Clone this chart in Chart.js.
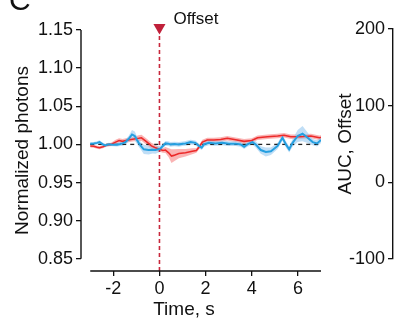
<!DOCTYPE html>
<html>
<head>
<meta charset="utf-8">
<script src="https://cdn.jsdelivr.net/npm/chart.js@4"></script>
<style>
  body { margin: 0; background: #fff; }
  #wrap { position: relative; width: 395px; height: 324px; }
  canvas { position: absolute; top: 0; }
</style>
</head>
<body>
<div id="wrap">
  <canvas id="traceChart" width="395" height="324" style="left:0"></canvas>
  <canvas id="aucChart" width="75" height="324" style="left:320px"></canvas>
</div>
<script>
const FONT = "'Liberation Sans', Arial, sans-serif";

// time axis, seconds
const xTicks = [-2, 0, 2, 4, 6];
const xStart = -3, xEnd = 7;
const yTicks = [0.85, 0.90, 0.95, 1.00, 1.05, 1.10, 1.15];
const aucTicks = [-100, 0, 100, 200];

// blue trace: time, mean, sem
const blueT = [-3.0, -2.85, -2.7, -2.6, -2.45, -2.35, -2.2, -2.0, -1.84, -1.7, -1.6, -1.48, -1.33, -1.19, -1.07, -0.98, -0.9, -0.78, -0.68, -0.47, -0.3, -0.17, 0.04, 0.15, 0.26, 0.38, 0.48, 0.65, 0.84, 1.0, 1.13, 1.35, 1.56, 1.71, 1.83, 1.93, 2.14, 2.43, 2.72, 3.01, 3.3, 3.52, 3.67, 3.81, 4.03, 4.17, 4.39, 4.61, 4.83, 5.12, 5.33, 5.48, 5.62, 5.77, 5.99, 6.2, 6.42, 6.64, 6.83, 7.0];
const blueV = [1.001, 1.0013, 1.002, 1.003, 1.000, 0.9987, 1.000, 0.9995, 0.9996, 1.0005, 1.0013, 1.003, 1.0074, 1.013, 1.011, 1.006, 1.002, 0.997, 0.9935, 0.9926, 0.993, 0.9926, 0.9944, 0.998, 1.0013, 1.001, 1.000, 1.0005, 1.000, 1.0008, 1.0013, 1.003, 1.002, 0.998, 0.9957, 1.000, 1.002, 1.0013, 1.002, 1.001, 1.001, 1.000, 0.997, 1.000, 1.003, 1.000, 0.9926, 0.990, 0.991, 0.998, 1.0087, 1.000, 0.9935, 1.002, 1.011, 1.014, 1.0087, 1.003, 1.0013, 1.0057];
const blueE = [0.002, 0.002, 0.002, 0.0025, 0.002, 0.002, 0.002, 0.002, 0.0025, 0.0025, 0.003, 0.003, 0.004, 0.006, 0.006, 0.005, 0.005, 0.005, 0.006, 0.006, 0.005, 0.005, 0.004, 0.003, 0.003, 0.003, 0.003, 0.003, 0.003, 0.003, 0.003, 0.003, 0.003, 0.003, 0.003, 0.003, 0.003, 0.003, 0.003, 0.003, 0.003, 0.003, 0.003, 0.003, 0.003, 0.004, 0.005, 0.006, 0.005, 0.004, 0.004, 0.004, 0.004, 0.005, 0.008, 0.010, 0.007, 0.004, 0.004, 0.004];

// red trace: time, mean, sem
const redT = [-3.0, -2.85, -2.7, -2.6, -2.45, -2.3, -2.1, -1.9, -1.75, -1.6, -1.45, -1.3, -1.1, -0.9, -0.78, -0.62, -0.5, -0.35, -0.2, 0.0, 0.15, 0.26, 0.4, 0.52, 0.62, 0.84, 1.13, 1.42, 1.6, 1.75, 1.86, 2.07, 2.36, 2.65, 2.94, 3.3, 3.67, 4.0, 4.25, 4.68, 5.12, 5.4, 5.69, 6.13, 6.56, 6.93, 7.0];
const redV = [0.998, 0.9975, 0.9962, 0.9956, 0.997, 0.999, 1.000, 1.003, 1.005, 1.004, 1.005, 1.006, 1.007, 1.008, 1.0087, 1.005, 1.002, 0.998, 0.996, 0.9935, 0.992, 0.9926, 0.989, 0.9847, 0.9856, 0.988, 0.989, 0.991, 0.992, 0.998, 1.003, 1.0057, 1.0057, 1.0065, 1.008, 1.006, 1.004, 1.005, 1.0087, 1.010, 1.011, 1.012, 1.010, 1.010, 1.011, 1.0087, 1.009];
const redE = [0.002, 0.002, 0.002, 0.002, 0.002, 0.002, 0.002, 0.003, 0.003, 0.003, 0.003, 0.003, 0.003, 0.004, 0.004, 0.004, 0.004, 0.004, 0.004, 0.003, 0.003, 0.004, 0.006, 0.009, 0.008, 0.006, 0.005, 0.004, 0.003, 0.003, 0.003, 0.003, 0.003, 0.003, 0.003, 0.003, 0.003, 0.003, 0.003, 0.003, 0.003, 0.003, 0.003, 0.003, 0.003, 0.003, 0.003];

const pts = (t, v) => t.map((x, i) => ({x: x, y: v[i]}));
const lo = (t, v, e) => t.map((x, i) => ({x: x, y: v[i] - e[i]}));
const hi = (t, v, e) => t.map((x, i) => ({x: x, y: v[i] + e[i]}));

const decor = {
  id: 'decor',
  afterDraw(c) {
    const {ctx, scales: {x, y}, chartArea} = c;
    ctx.save();
    ctx.strokeStyle = '#111';
    ctx.lineWidth = 1.4;
    ctx.beginPath();
    ctx.moveTo(chartArea.left, y.getPixelForValue(yTicks[0]));
    ctx.lineTo(chartArea.left, y.getPixelForValue(yTicks[yTicks.length - 1]));
    ctx.moveTo(x.getPixelForValue(xStart), chartArea.bottom);
    ctx.lineTo(x.getPixelForValue(xEnd), chartArea.bottom);
    ctx.stroke();
    ctx.fillStyle = '#111';
    ctx.font = '17px ' + FONT;
    ctx.fillText('Offset', x.getPixelForValue(0) + 14, 24);
    ctx.font = '19px ' + FONT;
    ctx.textAlign = 'center';
    ctx.fillText('Time, s', 184, 315);
    ctx.textAlign = 'left';
    ctx.font = '30px ' + FONT;
    ctx.fillText('C', 9, 10);
    ctx.restore();
  }
};

const line = (data, color, width, order) => ({
  data: data, borderColor: color, borderWidth: width, pointRadius: 0,
  fill: false, tension: 0, order: order
});

new Chart(document.getElementById('traceChart'), {
  type: 'line',
  data: {
    datasets: [
      Object.assign(line(lo(redT, redV, redE), 'transparent', 0, 5), {}),
      Object.assign(line(hi(redT, redV, redE), 'transparent', 0, 5), {fill: '-1', backgroundColor: 'rgba(246, 130, 130, 0.6)'}),
      Object.assign(line(lo(blueT, blueV, blueE), 'transparent', 0, 4), {}),
      Object.assign(line(hi(blueT, blueV, blueE), 'transparent', 0, 4), {fill: '-1', backgroundColor: 'rgba(150, 200, 240, 0.6)'}),
      Object.assign(line([{x: xStart, y: 1}, {x: xEnd, y: 1}], '#222', 1.3, 3), {borderDash: [4, 4]}),
      Object.assign(line([{x: 0, y: 0.834}, {x: 0, y: 1.147}], 'rgba(200, 40, 60, 1)', 1.6, 3), {borderDash: [4, 3]}),
      line(pts(redT, redV), '#ec2a2a', 1.6, 1),
      line(pts(blueT, blueV), '#259fe0', 2, 0),
      {
        type: 'scatter', data: [{x: 0, y: 1.1533}], pointStyle: 'triangle', rotation: 180,
        pointRadius: 7, backgroundColor: '#c0203a', borderColor: '#c0203a', borderWidth: 0,
        clip: false, order: 0
      }
    ]
  },
  options: {
    responsive: false,
    animation: false,
    layout: { padding: { left: 0, top: 30, right: 74, bottom: 0 } },
    plugins: { legend: { display: false }, tooltip: { enabled: false } },
    scales: {
      x: {
        type: 'linear', min: -3.4, max: 7.0,
        afterBuildTicks: s => { s.ticks = xTicks.map(v => ({value: v})); },
        afterFit: s => { s.height = 53; },
        border: { display: false },
        grid: { drawOnChartArea: false, drawTicks: true, tickLength: 5, color: '#111', lineWidth: 1.3 },
        ticks: { padding: 2, color: '#111', font: { size: 18, family: FONT } }
      },
      y: {
        min: 0.834, max: 1.15,
        afterBuildTicks: s => { s.ticks = yTicks.map(v => ({value: v})); },
        afterFit: s => { s.width = 81; },
        border: { display: false },
        grid: { drawOnChartArea: false, drawTicks: true, tickLength: 5, color: '#111', lineWidth: 1.3 },
        ticks: { padding: 3, color: '#111', font: { size: 18, family: FONT }, callback: v => Number(v).toFixed(2) },
        title: { display: true, text: 'Normalized photons', color: '#111', font: { size: 19, family: FONT }, padding: { top: 11.6, bottom: 0 } }
      }
    }
  },
  plugins: [decor]
});

new Chart(document.getElementById('aucChart'), {
  type: 'line',
  data: { datasets: [] },
  options: {
    responsive: false,
    animation: false,
    layout: { padding: { left: 0, top: 29, right: 0, bottom: 65 } },
    plugins: { legend: { display: false }, tooltip: { enabled: false } },
    scales: {
      x: { type: 'linear', min: 0, max: 1, display: false },
      y: {
        min: -100, max: 200,
        afterBuildTicks: s => { s.ticks = aucTicks.map(v => ({value: v})); },
        afterFit: s => { s.width = 73; },
        border: { display: true, color: '#111', width: 1.4 },
        grid: { drawOnChartArea: false, drawTicks: true, tickLength: 5, color: '#111', lineWidth: 1.3 },
        ticks: { padding: 3, color: '#111', font: { size: 18, family: FONT } },
        title: { display: true, text: 'AUC, Offset', color: '#111', font: { size: 19, family: FONT }, padding: { top: 14.6, bottom: 0 } }
      }
    }
  }
});
</script>
</body>
</html>
